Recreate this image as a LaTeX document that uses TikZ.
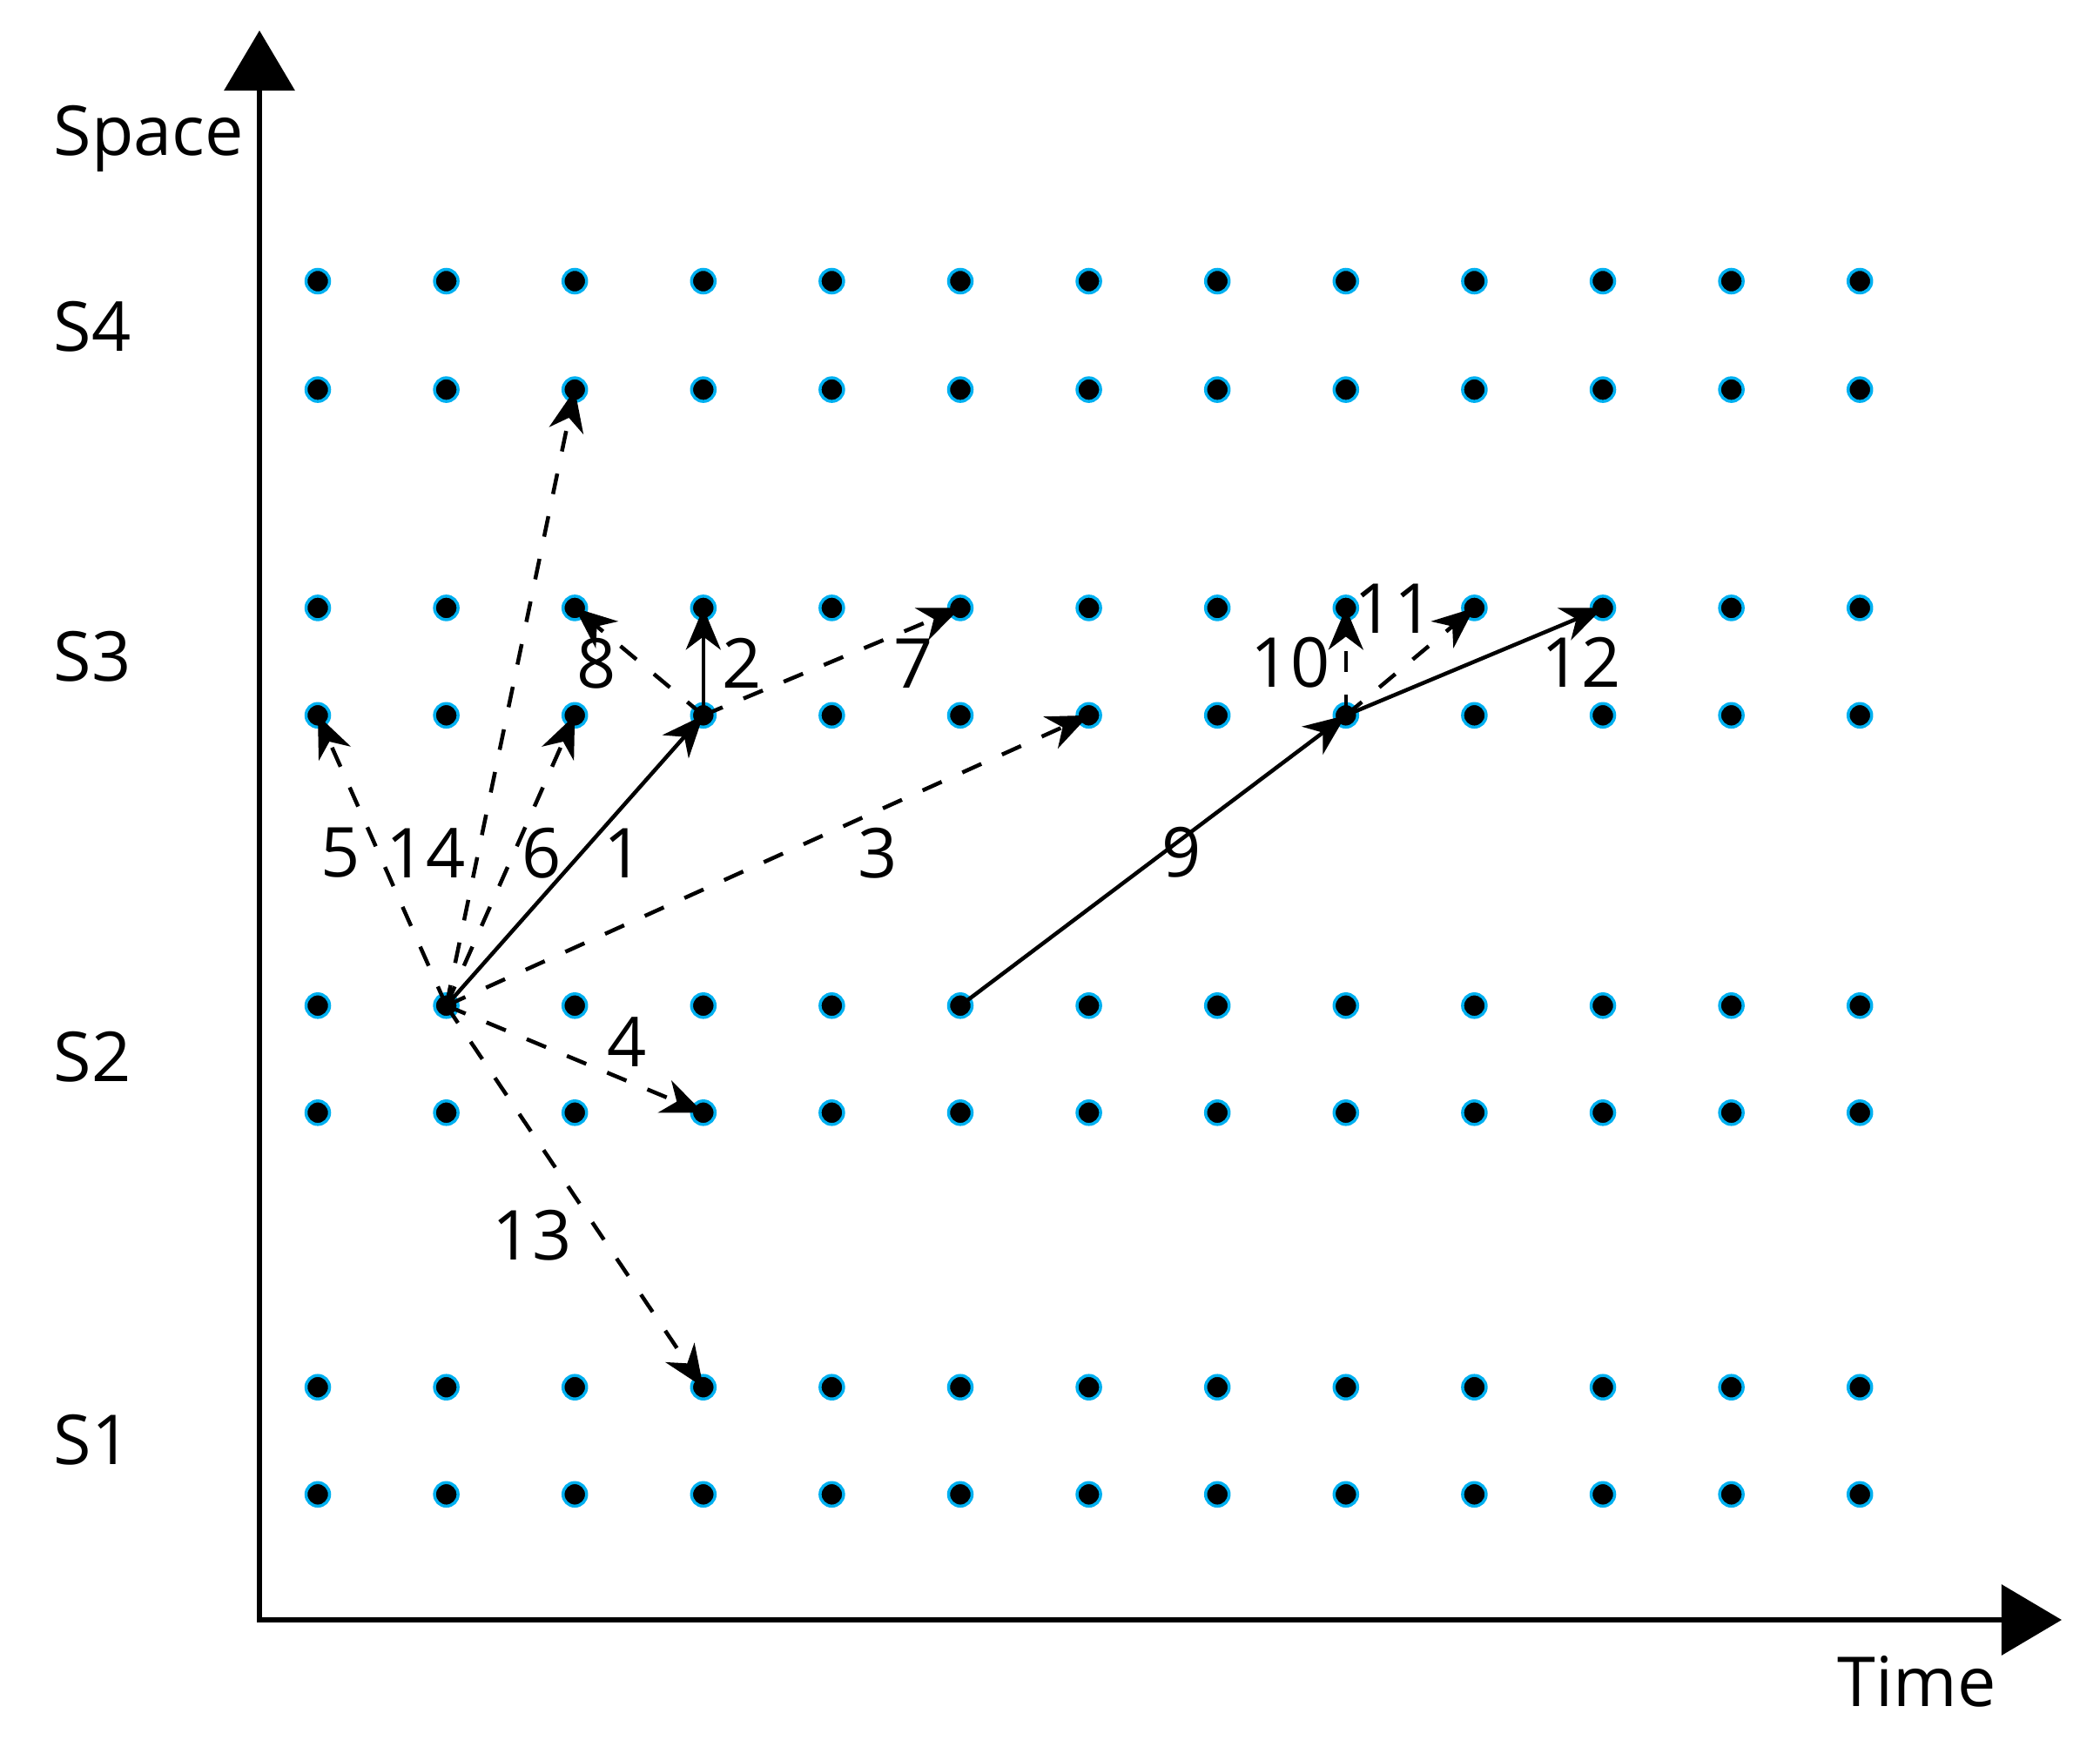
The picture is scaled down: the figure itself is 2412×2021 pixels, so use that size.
\documentclass[tikz,border=0pt]{standalone}
\usepackage{fontspec}
\setmainfont{Open Sans}
\usetikzlibrary{arrows.meta}
\definecolor{dotcyan}{HTML}{00B0F0}
\begin{document}
\begin{tikzpicture}[x=0.01cm,y=-0.01cm,
  gdot/.style={circle,fill=black,draw=dotcyan,line width=0.035cm,minimum size=0.27cm,inner sep=0pt},
  axisline/.style={line width=0.065cm,{Triangle[length=0.69cm,width=0.8cm]}-{Triangle[length=0.69cm,width=0.8cm]}},
  solidedge/.style={line width=0.045cm,-{Stealth[length=0.48cm,width=0.4cm,inset=0.15cm]}},
  dashedge/.style={solidedge,dash pattern=on 0.24cm off 0.26cm},
  lbl/.style={inner sep=0pt,font=\fontsize{22.5}{27}\selectfont},
  axlbl/.style={lbl,anchor=base west}]
\useasboundingbox (0,0) rectangle (2412,2021);
\fill[white] (0,0) rectangle (2412,2021);
% axes
\coordinate (ytip) at (298,35);
\coordinate (xtip) at (2368,1861);
\draw[axisline] (ytip) |- (xtip);
% axis labels
\node[axlbl] (space) at (61,178) {Space};
\node[axlbl] (time) at (2110,1960) {Time};
\node[axlbl] (s4) at (61,403) {S4};
\node[axlbl] (s3) at (61,782) {S3};
\node[axlbl] (s2) at (61,1242) {S2};
\node[axlbl] (s1) at (61,1682) {S1};
% grid of dots
\foreach \r/\yy in {1/323,2/447.6,3/698.4,4/821.8,5/1155.3,6/1278.3,7/1593.7,8/1716.8}{
  \foreach \c in {1,...,13}{
    \node[gdot] (d-\c-\r) at ({365+147.6*(\c-1)},\yy) {};
  }
}
% connectors
\draw[solidedge] (d-2-5.center) -- (d-4-4.center);
\draw[dashedge] (d-2-5.center) -- (d-7-4.center);
\draw[dashedge] (d-2-5.center) -- (d-4-6.center);
\draw[dashedge] (d-2-5.center) -- (d-1-4.center);
\draw[dashedge] (d-2-5.center) -- (d-3-4.center);
\draw[dashedge] (d-2-5.center) -- (d-4-7.center);
\draw[dashedge] (d-2-5.center) -- (d-3-2.center);
\draw[solidedge] (d-4-4.center) -- (d-4-3.center);
\draw[dashedge] (d-4-4.center) -- (d-6-3.center);
\draw[dashedge] (d-4-4.center) -- (d-3-3.center);
\draw[solidedge] (d-6-5.center) -- (d-9-4.center);
\draw[dashedge] (d-9-4.center) -- (d-9-3.center);
\draw[dashedge] (d-9-4.center) -- (d-10-3.center);
\draw[solidedge] (d-9-4.center) -- (d-11-3.center);
% connector labels
\node[lbl] (l1) at (716,980) {1};
\node[lbl] (l2) at (852,762) {2};
\node[lbl] (l3) at (1008,980) {3};
\node[lbl] (l4) at (720,1197) {4};
\node[lbl] (l5) at (391,980) {5};
\node[lbl] (l6) at (622,980) {6};
\node[lbl] (l7) at (1049,762) {7};
\node[lbl] (l8) at (685,762) {8};
\node[lbl] (l9) at (1357,979) {9};
\node[lbl] (l10) at (1482,761) {10};
\node[lbl] (l11) at (1601,699) {11};
\node[lbl] (l12) at (1816,761) {12};
\node[lbl] (l13) at (611,1419) {13};
\node[lbl] (l14) at (489,980) {14};
\end{tikzpicture}
\end{document}
